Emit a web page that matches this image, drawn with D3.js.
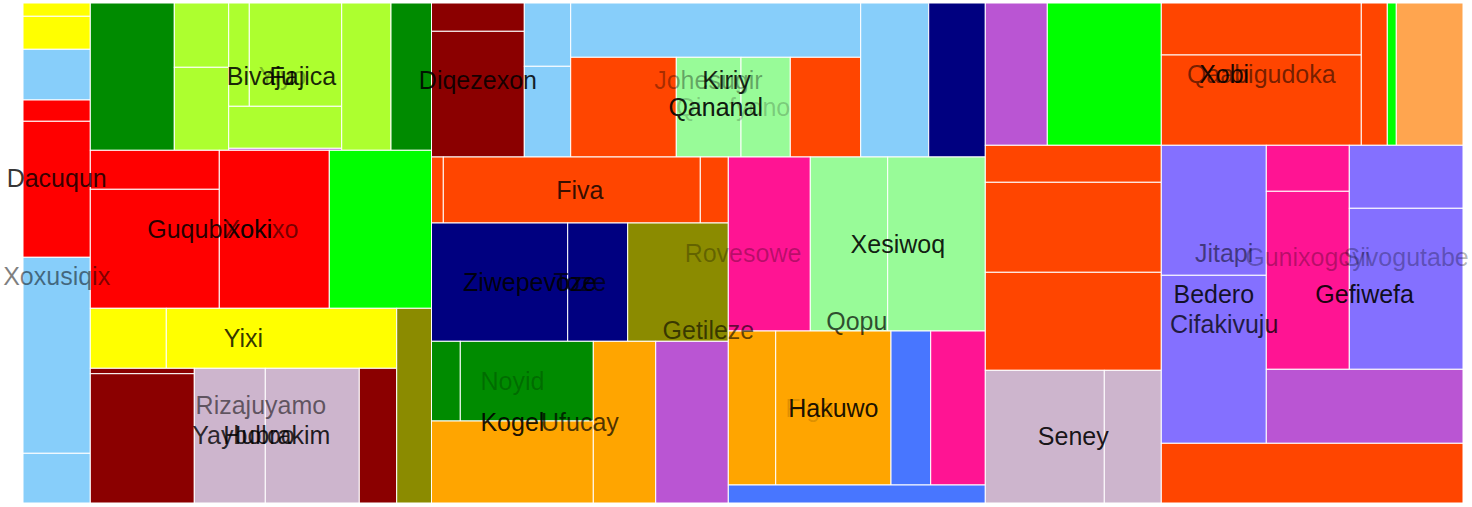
<!DOCTYPE html>
<html>
<head>
<meta charset="utf-8">
<script src="https://cdn.jsdelivr.net/npm/d3@7"></script>
<style>
html,body{margin:0;padding:0;background:#fff;}
svg{display:block;}
</style>
</head>
<body>
<svg id="chart" width="1472" height="507"></svg>
<script>
// ---- data ----
const leafPath = [
 "R/c1/y1","R/c1/y2","R/c1/x/a","R/c1/x/d/a","R/c1/x/d/b","R/c1/x/b","R/c1/x/c",
 "R/b2/a/a","R/b2/a/f/y/c/a","R/b2/a/f/y/c/b","R/b2/a/f/y/m/t/a","R/b2/a/f/y/m/t/b","R/b2/a/f/y/m/c","R/b2/a/f/y/m/d","R/b2/a/f/y/e","R/b2/a/f/g",
 "R/b2/b/r/c/a","R/b2/b/r/c/b","R/b2/b/r/b","R/b2/b/g",
 "R/b2/c/s/y/a","R/b2/c/s/y/b","R/b2/c/s/d/k/a","R/b2/c/s/d/k/b","R/b2/c/s/d/l/a","R/b2/c/s/d/l/b","R/b2/c/s/d/e","R/b2/c/o",
 "R/m/t/d/a","R/m/t/d/b","R/m/t/k/c/a","R/m/t/k/c/b","R/m/t/k/q/a","R/m/t/k/q/r/a","R/m/t/k/q/r/g/a","R/m/t/k/q/r/g/b","R/m/t/k/q/r/b","R/m/t/k/e","R/m/t/n",
 "R/m/b/l/f/a","R/m/b/l/f/b","R/m/b/l/f/c","R/m/b/l/n/z/a","R/m/b/l/n/z/b","R/m/b/l/n/o",
 "R/m/b/l/o/s/g/a","R/m/b/l/o/s/g/b","R/m/b/l/o/s/o","R/m/b/l/o/a","R/m/b/l/o/b",
 "R/m/b/r/q/t/p","R/m/b/r/q/t/x/a","R/m/b/r/q/t/x/b","R/m/b/r/q/b/f/a","R/m/b/r/q/b/f/b","R/m/b/r/q/b/u","R/m/b/r/q/b/p","R/m/b/r/z",
 "R/r/t/a","R/r/t/b","R/r/t/q/a","R/r/t/q/b","R/r/t/c","R/r/t/d","R/r/t/e",
 "R/r/b/l/a","R/r/b/l/b","R/r/b/l/c","R/r/b/l/s/a","R/r/b/l/s/b",
 "R/r/b/r/u/b/a","R/r/b/r/u/b/b","R/r/b/r/u/g/t/n/a","R/r/b/r/u/g/t/n/b","R/r/b/r/u/g/t/s/a","R/r/b/r/u/g/t/s/b","R/r/b/r/u/g/o","R/r/b/r/o"
];
const leafValue = [
 895,2221,3412,1433,9153,13191,3345,
 12373,3498,4515,2128,9545,4746,226,7262,5966,
 5031,15351,17380,16148,
 4560,13824,562,13447,9564,12662,5038,6776,
 2626,11665,2937,4208,15747,10528,6451,4915,7019,10472,8716,
 779,16962,1848,16112,7098,11901,
 2295,10600,13268,10090,11739,
 14268,13468,16982,7300,17756,6114,8408,4626,
 8823,16222,10400,18060,3700,1281,9491,
 6512,15840,17248,15791,7564,
 13650,17640,3818,14774,7163,18306,14556,18011
];
const leafCategory = [
 "yellow","yellow","sky","red","red","sky","sky",
 "dgreen","ygreen","ygreen","ygreen","ygreen","ygreen","orchid","ygreen","dgreen",
 "red","red","red","lime",
 "yellow","yellow","dred","dred","thistle","thistle","dred","olive",
 "dred","dred","sky","sky","sky","ored","pgreen","pgreen","ored","sky","navy",
 "ored","ored","ored","navy","navy","olive",
 "dgreen","dgreen","orange","orange","orchid",
 "pink","pgreen","pgreen","orange","orange","rblue","pink","rblue",
 "orchid","lime","ored","ored","ored","lime","tan",
 "ored","ored","ored","thistle","thistle",
 "slate","slate","pink","pink","slate","slate","orchid","ored"
];
const categories = ["yellow","sky","red","dgreen","ygreen","orchid","lime","dred","thistle","olive","ored","pgreen","navy","orange","pink","rblue","slate","tan"];
const categoryColors = ["#FFFF00","#87CEFA","#FF0000","#008B00","#ADFF2F","#BA55D3","#00FF00","#8B0000","#CDB5CD","#8B8B00","#FF4500","#98FB98","#000080","#FFA500","#FF1493","#4876FF","#8470FF","#FFA54F"];
// groups whose children sit side by side (others are stacked)
const sideBySideGroups = ["R",
 "R/b2/a","R/b2/a/f","R/b2/a/f/y","R/b2/a/f/y/m/t","R/b2/b","R/b2/b/r","R/b2/c","R/b2/c/s/y","R/b2/c/s/d","R/b2/c/s/d/l",
 "R/m/t","R/m/t/k","R/m/t/k/q/r","R/m/t/k/q/r/g","R/m/b","R/m/b/l/f","R/m/b/l/n","R/m/b/l/n/z","R/m/b/l/o","R/m/b/l/o/s/g",
 "R/m/b/r/q/t","R/m/b/r/q/t/x","R/m/b/r/q/b","R/m/b/r/q/b/f",
 "R/r/t","R/r/b","R/r/b/l/s","R/r/b/r/u","R/r/b/r/u/g/t"];
const labelNode = ["R","R/r","R/r/t","R/r/t/q","R/r/b","R/r/b/r/u/b","R/r/b/r/u/g","R/r/b/r/u/g/t/n","R/r/b/r/u/g/t/s","R/r/b/l/s",
 "R/m/t","R/m/t/k","R/m/t/k/q/r","R/m/t/k/q/r/g","R/m/t/d","R/m/b","R/m/b/l/f","R/m/b/l/n/z","R/m/b/l/n","R/m/b/r/q","R/m/b/r/q/t/x",
 "R/m/b/r/q/b/f","R/m/b/r/q/b/f/b","R/m/b/l/o/s/g","R/m/b/l/o/s","R/m/b/l/o",
 "R/c1/x","R/c1/x/d","R/b2/a","R/b2/a/f/y","R/b2/a/f","R/b2/b/r","R/b2/b","R/b2/c/s/y","R/b2/c","R/b2/c/s/d","R/b2/c/s/d/l"];
const labelText = ["Rovesowe","Jitapi","Xobi","Qaabigudoka","Cifakivuju","Bedero","Gefiwefa","Gunixogoyi","Sivogutabe","Seney",
 "Johesugir","Kiriy","Qananal","Qinafyono","Diqezexon","Getileze","Fiva","Ziwepevoze","Toze","Qopu","Xesiwoq",
 "Figo","Hakuwo","Noyid","Kogel","Ufucay",
 "Xoxusiqix","Dacuqun","Bivaju","Yiyo","Fajica","Guqubixoki","Xokixo","Yixi","Rizajuyamo","Yayboloo","Hubrakim"];
const labelAlpha = [0.28,0.5,0.9,0.55,0.75,0.85,0.9,0.28,0.3,0.9,
 0.35,0.85,0.9,0.2,0.85,0.6,0.8,0.9,0.7,0.7,0.9,
 0.12,0.9,0.22,0.9,0.7,
 0.5,0.8,0.85,0.3,0.85,0.85,0.55,0.8,0.55,0.8,0.85];

// ---- hierarchy ----
const rows = [], seen = new Set();
leafPath.forEach((p, i) => {
  const parts = p.split("/");
  for (let k = 1; k < parts.length; k++) {
    const id = parts.slice(0, k).join("/");
    if (!seen.has(id)) { seen.add(id); rows.push({id, value: 0, cat: null}); }
  }
  seen.add(p);
  rows.push({id: p, value: leafValue[i], cat: leafCategory[i]});
});
const root = d3.stratify()
  .id(d => d.id)
  .parentId(d => { const i = d.id.lastIndexOf("/"); return i < 0 ? null : d.id.slice(0, i); })(rows);
root.sum(d => d.value);

const dice = new Set(sideBySideGroups);
const W = 1440, H = 500;
d3.treemap()
  .size([W, H])
  .tile((node, x0, y0, x1, y1) => (dice.has(node.id) ? d3.treemapDice : d3.treemapSlice)(node, x0, y0, x1, y1))
  (root);

const color = d3.scaleOrdinal().domain(categories).range(categoryColors);
const svg = d3.select("#chart");
const g = svg.append("g").attr("transform", "translate(23,3)");

g.selectAll("rect.leaf").data(root.leaves()).join("rect")
  .attr("class", "leaf")
  .attr("x", d => d.x0).attr("y", d => d.y0)
  .attr("width", d => Math.max(0, d.x1 - d.x0))
  .attr("height", d => Math.max(0, d.y1 - d.y0))
  .attr("fill", d => color(d.data.cat))
  .attr("stroke", "#fff").attr("stroke-width", 1);

const byId = new Map(root.descendants().map(d => [d.id, d]));
const labels = labelNode.map((n, i) => ({node: byId.get(n), text: labelText[i], a: labelAlpha[i]}));
g.selectAll("text.lab").data(labels).join("text")
  .attr("class", "lab")
  .attr("x", d => (d.node.x0 + d.node.x1) / 2)
  .attr("y", d => (d.node.y0 + d.node.y1) / 2)
  .attr("dy", "0.35em")
  .attr("text-anchor", "middle")
  .attr("font-family", "Liberation Sans, Arial, sans-serif")
  .attr("font-size", 25)
  .attr("fill", "#000")
  .attr("fill-opacity", d => d.a)
  .text(d => d.text);
</script>
</body>
</html>
